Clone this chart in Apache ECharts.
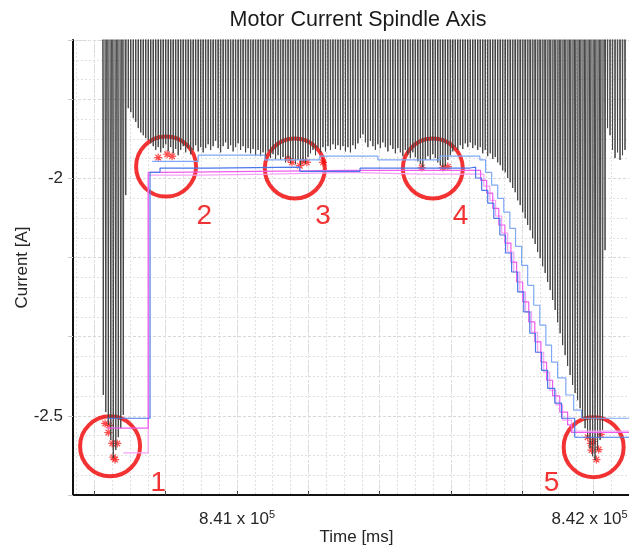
<!DOCTYPE html>
<html>
<head>
<meta charset="utf-8">
<script src="https://cdn.jsdelivr.net/npm/echarts@6/dist/echarts.min.js"></script>
<style>
html,body{margin:0;padding:0;background:#fff;}
#chart{width:629px;height:549px;}
</style>
</head>
<body>
<div id="chart"></div>
<script>
// raw spindle current: troughs of the oscillation, peaks run off the top
var sampleStart = 840625;   // time of first trough [ms]
var sampleStep = 7;         // trough spacing [ms]
var peakLevel = -0.9;
var spindleTroughs = [
  -2.456,-2.492,-2.519,-2.551,-2.589,-2.572,-2.545,-2.526,-2.498,-2.035,
  -1.852,-1.860,-1.873,-1.881,-1.894,-1.903,-1.909,-1.915,-1.919,-1.926,
  -1.932,-1.940,-1.934,-1.945,-1.936,-1.928,-1.943,-1.934,-1.947,-1.938,
  -1.951,-1.940,-1.932,-1.945,-1.936,-1.949,-1.940,-1.930,-1.943,-1.934,
  -1.945,-1.936,-1.928,-1.940,-1.932,-1.921,-1.936,-1.945,-1.932,-1.924,
  -1.938,-1.930,-1.943,-1.934,-1.926,-1.940,-1.932,-1.945,-1.936,-1.947,
  -1.938,-1.951,-1.940,-1.953,-1.945,-1.955,-1.943,-1.957,-1.949,-1.959,
  -1.951,-1.961,-1.955,-1.966,-1.957,-1.968,-1.959,-1.970,-1.961,-1.972,
  -1.964,-1.968,-1.955,-1.947,-1.940,-1.951,-1.936,-1.945,-1.934,-1.943,
  -1.932,-1.940,-1.928,-1.938,-1.930,-1.940,-1.932,-1.943,-1.934,-1.945,
  -1.930,-1.938,-1.926,-1.915,-1.907,-1.924,-1.934,-1.921,-1.932,-1.940,
  -1.928,-1.936,-1.924,-1.934,-1.943,-1.930,-1.938,-1.947,-1.936,-1.945,
  -1.953,-1.940,-1.949,-1.957,-1.945,-1.955,-1.964,-1.970,-1.976,-1.961,
  -1.953,-1.961,-1.949,-1.957,-1.966,-1.972,-1.976,-1.974,-1.961,-1.951,
  -1.943,-1.934,-1.940,-1.930,-1.938,-1.926,-1.934,-1.924,-1.936,-1.930,
  -1.940,-1.934,-1.947,-1.940,-1.953,-1.947,-1.959,-1.955,-1.966,-1.972,
  -1.983,-1.987,-1.999,-2.008,-2.020,-2.029,-2.046,-2.056,-2.071,-2.084,
  -2.098,-2.109,-2.126,-2.138,-2.155,-2.168,-2.185,-2.199,-2.218,-2.235,
  -2.256,-2.277,-2.303,-2.326,-2.351,-2.372,-2.395,-2.414,-2.435,-2.452,
  -2.467,-2.484,-2.505,-2.526,-2.547,-2.568,-2.585,-2.593,-2.572,-2.551,
  -2.530,-2.151,-1.894,-1.909,-1.940,-1.957,-1.945,-1.961,-1.951,-1.940
];

// estimated envelopes (step traces) [time, current]
var blueTrace = [
  [840636,-2.505],[840756,-1.987],[840784,-1.978],[840924,-1.976],[841176,-1.985],
  [841345,-1.978],[841653,-1.976],[841669,-1.999],[841686,-2.025],[841703,-2.052],
  [841720,-2.084],[841737,-2.119],[841753,-2.157],[841770,-2.197],[841787,-2.239],
  [841804,-2.281],[841821,-2.326],[841837,-2.366],[841854,-2.404],[841871,-2.442],
  [841891,-2.473],[841910,-2.505],[841947,-2.545],[842130,-2.545]
];
var lightBlueTrace = [
  [840762,-1.964],[840891,-1.951],[841078,-1.961],[841232,-1.953],[841395,-1.961],
  [841569,-1.953],[841681,-1.961],[841697,-1.987],[841714,-2.014],[841731,-2.042],
  [841748,-2.071],[841765,-2.105],[841781,-2.143],[841798,-2.183],[841815,-2.225],
  [841832,-2.267],[841849,-2.309],[841866,-2.351],[841882,-2.387],[841899,-2.420],
  [841922,-2.456],[841944,-2.488],[841966,-2.505],[842130,-2.505]
];
var magentaTrace = [
  [840636,-2.526],[840751,-1.987],[840798,-1.983],[841317,-1.983],[841667,-1.983],
  [841683,-2.004],[841700,-2.031],[841717,-2.063],[841734,-2.098],[841751,-2.136],
  [841768,-2.176],[841784,-2.218],[841801,-2.260],[841818,-2.302],[841835,-2.344],
  [841852,-2.387],[841868,-2.425],[841885,-2.458],[841905,-2.492],[841927,-2.519],
  [841938,-2.535],[842130,-2.535]
];
var pinkTrace = [
  [840681,-2.578],[840751,-1.993],[840896,-1.991],[841092,-1.987],[841317,-1.991],
  [841513,-1.991],[841675,-1.991],[841692,-2.016],[841709,-2.046],[841725,-2.079],
  [841742,-2.115],[841759,-2.155],[841776,-2.197],[841793,-2.239],[841809,-2.281],
  [841826,-2.324],[841843,-2.366],[841860,-2.408],[841877,-2.446],[841894,-2.477],
  [841913,-2.509],[841938,-2.532],[842130,-2.532]
];

// detected minima (red stars)
var minimaPoints = [
  [840630,-2.516],[840641,-2.520],[840639,-2.535],[840650,-2.558],[840664,-2.558],[840653,-2.587],[840658,-2.592],
  [840779,-1.956],[840804,-1.949],[840818,-1.953],
  [841143,-1.958],[841154,-1.966],[841176,-1.973],[841185,-1.964],[841196,-1.966],[841241,-1.966],
  [841518,-1.977],[841577,-1.977],[841591,-1.975],
  [841983,-2.545],[841992,-2.558],[842000,-2.554],[842020,-2.539],[841994,-2.572],[842014,-2.571],[842008,-2.592]
];

// annotation circles and their numbers
var circleCenters = [[840644,-2.564],[840801,-1.975],[841162,-1.979],[841549,-1.979],[842000,-2.566]];
var circleNames = ['1','2','3','4','5'];
var circleLabelPos = [[840779,-2.642],[840908,-2.080],[841241,-2.080],[841627,-2.080],[841882,-2.642]];

// axis ticks
var xTickValues = [840600,840800,841000,841200,841400,841600,841800,842000];
var xLabelValues = [841000,842000];
var yLabelValues = [-2,-2.5];

var spindleSignal = [];
for (var i = 0; i < spindleTroughs.length; i++) {
  var t = sampleStart + i * sampleStep;
  spindleSignal.push([t - sampleStep / 2, peakLevel]);
  spindleSignal.push([t, spindleTroughs[i]]);
}
spindleSignal.push([sampleStart + spindleTroughs.length * sampleStep - sampleStep / 2, peakLevel]);

var xMinorGrid = [];
for (var g = 840550; g <= 842100; g += 50) xMinorGrid.push(g);

var numberData = circleLabelPos.map(function (p, k) {
  return { value: p, name: circleNames[k] };
});

var gridDot = { color: '#e0e0e0', type: [2, 2], width: 1 };
var textCol = '#262626';
var font = 'Liberation Sans, Arial, sans-serif';

var myChart = echarts.init(document.getElementById('chart'));
myChart.setOption({
  animation: false,
  title: {
    text: 'Motor Current Spindle Axis',
    left: 353, top: 4, textAlign: 'center',
    textStyle: { fontSize: 21.5, fontWeight: 'normal', color: '#1a1a1a', fontFamily: font }
  },
  grid: { left: 73, right: -11, top: 40, bottom: 54, outerBoundsMode: 'none' },
  xAxis: [{
    type: 'value', min: 840540, max: 842130,
    name: 'Time [ms]', nameLocation: 'middle', nameGap: 34, nameMoveOverlap: false,
    nameTextStyle: { fontSize: 17, color: textCol, fontFamily: font },
    axisLine: { onZero: false, lineStyle: { color: '#111', width: 2 } },
    axisTick: { inside: true, length: 4, customValues: xTickValues, lineStyle: { color: '#444' } },
    axisLabel: {
      customValues: xLabelValues, margin: 14,
      formatter: function (v) {
        var s = '{m|' + (v / 1e5).toFixed(2) + ' x 10}{e|5}';
        // last label is pulled in so it stays inside the picture
        return v === xLabelValues[xLabelValues.length - 1] ? s + '{p|}' : s;
      },
      rich: {
        m: { fontSize: 17, color: textCol, fontFamily: font, lineHeight: 20 },
        e: { fontSize: 11, color: textCol, fontFamily: font, verticalAlign: 'top', lineHeight: 12 },
        p: { width: 8 }
      }
    },
    splitLine: { show: true, lineStyle: { color: '#d8d8d8', type: [3, 2] } }
  }, {
    type: 'value', min: 840540, max: 842130, position: 'bottom',
    axisLine: { show: false },
    axisTick: { show: false, customValues: xMinorGrid },
    axisLabel: { show: false },
    splitLine: { show: true, lineStyle: gridDot }
  }],
  yAxis: {
    type: 'value', min: -8 / 3, max: -41 / 24, interval: 1 / 6,
    name: 'Current [A]', nameLocation: 'middle', nameGap: 42, nameMoveOverlap: false,
    nameTextStyle: { fontSize: 17, color: textCol, fontFamily: font },
    axisLine: { show: true, lineStyle: { color: '#111', width: 2 } },
    axisTick: { show: true, length: 5, lineStyle: { color: '#c8c8c8' } },
    axisLabel: {
      fontSize: 17, color: textCol, fontFamily: font, margin: 10,
      formatter: function (v) {
        for (var k = 0; k < yLabelValues.length; k++) {
          if (Math.abs(v - yLabelValues[k]) < 1e-6) return String(yLabelValues[k]);
        }
        return '';
      }
    },
    splitLine: { show: true, lineStyle: { color: '#d8d8d8', type: [3, 2] } },
    minorTick: { show: false, splitNumber: 4 },
    minorSplitLine: { show: true, lineStyle: gridDot }
  },
  series: [{
    name: 'spindle current', type: 'line', data: spindleSignal,
    symbol: 'none', sampling: false, clip: true,
    lineStyle: { color: '#444444', width: 1 }
  }, {
    name: 'pink', type: 'line', step: 'end', data: pinkTrace, symbol: 'none',
    lineStyle: { color: '#f6a2f6', width: 1.2 }
  }, {
    name: 'light blue', type: 'line', step: 'end', data: lightBlueTrace, symbol: 'none',
    lineStyle: { color: '#7fa8f6', width: 1.2 }
  }, {
    name: 'magenta', type: 'line', step: 'end', data: magentaTrace, symbol: 'none',
    lineStyle: { color: '#ee5cee', width: 1.2 }
  }, {
    name: 'blue', type: 'line', step: 'end', data: blueTrace, symbol: 'none',
    lineStyle: { color: '#4a78ea', width: 1.2 }
  }, {
    name: 'minima', type: 'scatter', data: minimaPoints,
    symbol: 'path://M5,0L5,10M0,5L10,5M1.5,1.5L8.5,8.5M8.5,1.5L1.5,8.5',
    symbolSize: 8,
    itemStyle: { color: 'none', borderColor: '#ff2020', borderWidth: 1.2 }
  }, {
    name: 'circles', type: 'scatter', data: circleCenters, clip: false,
    symbol: 'circle', symbolSize: 60,
    itemStyle: { color: 'rgba(0,0,0,0)', borderColor: '#f00000', borderWidth: 4 }
  }, {
    name: 'numbers', type: 'scatter', data: numberData, clip: false,
    symbolSize: 1, itemStyle: { color: 'rgba(0,0,0,0)' },
    label: {
      show: true, position: 'inside', formatter: '{b}',
      fontSize: 28, color: '#f00000', fontFamily: font
    }
  }]
});
</script>
</body>
</html>
